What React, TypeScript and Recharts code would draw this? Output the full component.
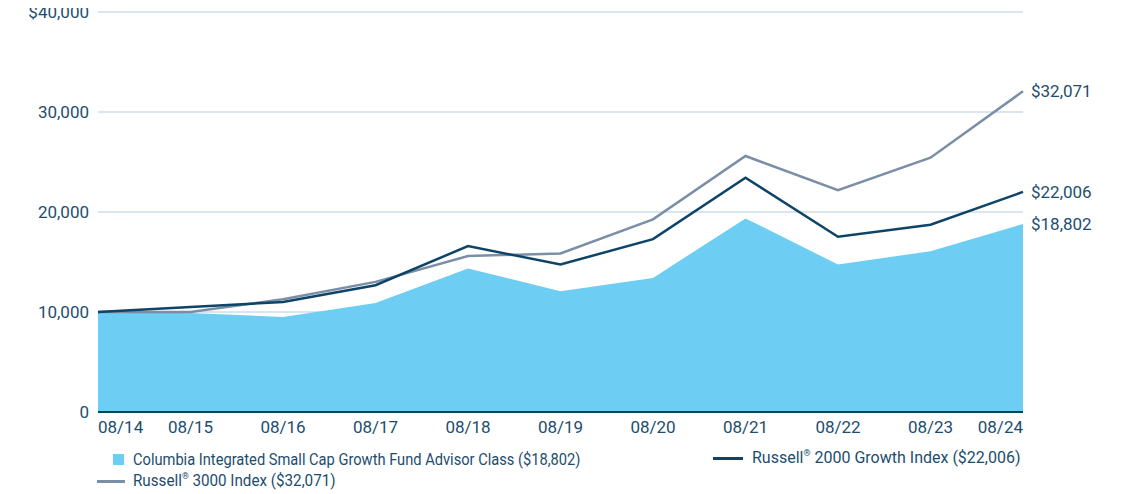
import React from "react";
import { ComposedChart, Area, Line, XAxis, YAxis, CartesianGrid, LabelList } from "recharts";

const years = ["08/14", "08/15", "08/16", "08/17", "08/18", "08/19", "08/20", "08/21", "08/22", "08/23", "08/24"];
const fund = [10000, 9900, 9510, 10910, 14350, 12080, 13410, 19360, 14750, 16080, 18802];
const r2000g = [10000, 10500, 11000, 12680, 16590, 14750, 17290, 23420, 17520, 18720, 22006];
const r3000 = [10000, 10010, 11280, 13010, 15590, 15860, 19260, 25600, 22190, 25430, 32071];
const yTicks = [0, 10000, 20000, 30000, 40000];

const data = years.map((year, i) => ({ year, fund: fund[i], r2000g: r2000g[i], r3000: r3000[i] }));

const TEXT = "#1d4d6e";
const FONT = "Roboto, 'Liberation Sans', sans-serif";

const fmtY = (v: number) => (v === 0 ? "0" : v === 40000 ? "$40,000" : v.toLocaleString("en-US"));

const XTick = (props: any) => {
  const { x, y, payload, index } = props;
  const last = years.length - 1;
  const anchor = index === 0 ? "start" : index === last ? "end" : "middle";
  return (
    <text x={x} y={y + 9} textAnchor={anchor} dominantBaseline="middle" fill={TEXT} fontSize={17} fontFamily={FONT}>
      {payload.value}
    </text>
  );
};

// baseline placed 6px below the value so the digits sit centred on the gridline
const YTick = (props: any) => {
  const { x, y, payload } = props;
  return (
    <text x={x} y={y + 6} textAnchor="end" fill={TEXT} fontSize={17} fontFamily={FONT}>
      {fmtY(payload.value)}
    </text>
  );
};

const endLabel = (props: any) => {
  const { x, y, index, value } = props;
  if (index !== years.length - 1) return null;
  return (
    <text x={x + 8} y={y + 6} fill={TEXT} fontSize={17} fontFamily={FONT}>
      ${Number(value).toLocaleString("en-US")}
    </text>
  );
};

const legendText: React.CSSProperties = {
  position: "absolute",
  color: TEXT,
  fontSize: 16,
  fontFamily: FONT,
  lineHeight: "20px",
  whiteSpace: "nowrap",
  transformOrigin: "left center",
};

const sup = <sup style={{ fontSize: 9, verticalAlign: "7px", lineHeight: 0 }}>®</sup>;

export default function App() {
  return (
    <div style={{ position: "relative", width: 1121, height: 494, marginTop: -8, marginLeft: -8, background: "#fff" }}>
      <ComposedChart width={1121} height={494} data={data} margin={{ top: 12, right: 98, bottom: 52, left: 0 }}>
        <CartesianGrid vertical={false} stroke="#cddcea" strokeWidth={1.5} />
        <XAxis
          dataKey="year"
          scale="point"
          padding={{ left: 0, right: 0 }}
          height={30}
          tickLine={false}
          axisLine={{ stroke: "#0d3f5f", strokeWidth: 2 }}
          tick={<XTick />}
          interval={0}
        />
        <YAxis
          domain={[0, 40000]}
          ticks={yTicks}
          width={98}
          tickLine={false}
          axisLine={false}
          tickSize={0}
          tickMargin={9}
          tick={<YTick />}
        />
        <Area type="linear" dataKey="fund" fill="#6dcdf3" fillOpacity={1} stroke="none" isAnimationActive={false}>
          <LabelList dataKey="fund" content={endLabel} />
        </Area>
        <Line type="linear" dataKey="r3000" stroke="#7a8fa6" strokeWidth={2.5} dot={false} isAnimationActive={false}>
          <LabelList dataKey="r3000" content={endLabel} />
        </Line>
        <Line type="linear" dataKey="r2000g" stroke="#0d4467" strokeWidth={2.5} dot={false} isAnimationActive={false}>
          <LabelList dataKey="r2000g" content={endLabel} />
        </Line>
      </ComposedChart>

      <div style={{ position: "absolute", left: 113, top: 454, width: 11, height: 11, background: "#6dcdf3" }} />
      <div style={{ ...legendText, left: 133, top: 450, transform: "scaleX(0.916)" }}>
        Columbia Integrated Small Cap Growth Fund Advisor Class ($18,802)
      </div>

      <div style={{ position: "absolute", left: 713, top: 457, width: 30, height: 2.5, background: "#0d4467" }} />
      <div style={{ ...legendText, left: 752, top: 448 }}>
        Russell{sup} 2000 Growth Index ($22,006)
      </div>

      <div style={{ position: "absolute", left: 97, top: 480, width: 28, height: 2.5, background: "#7a8fa6" }} />
      <div style={{ ...legendText, left: 133, top: 471, transform: "scaleX(0.95)" }}>
        Russell{sup} 3000 Index ($32,071)
      </div>
    </div>
  );
}
